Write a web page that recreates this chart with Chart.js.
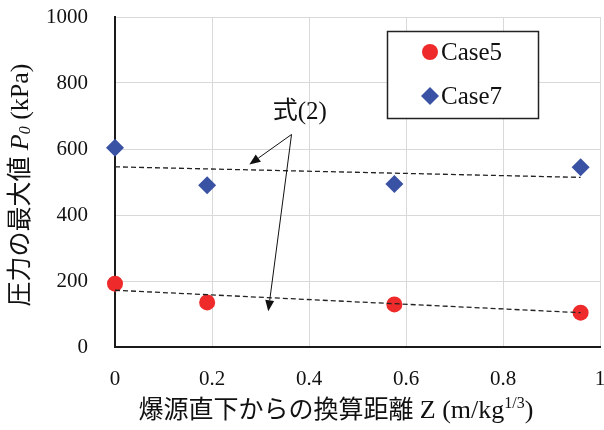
<!DOCTYPE html>
<html>
<head>
<meta charset="utf-8">
<script src="https://cdn.jsdelivr.net/npm/chart.js@4"></script>
<style>
  body { margin: 0; background: #fff; }
  canvas { display: block; }
</style>
</head>
<body>
<canvas id="chart" width="604" height="430"></canvas>
<script>
// Peak pressure vs scaled distance - Case5 / Case7 with eq.(2) trend lines

// measured points
const zCase5 = [0, 0.19, 0.576, 0.96];
const pCase5 = [192, 135, 129, 104];
const zCase7 = [0, 0.19, 0.576, 0.96];
const pCase7 = [604, 490, 494, 545];

// eq.(2) dashed lines (end points)
const zTrend = [0, 0.96];
const pTrend5 = [172, 104];
const pTrend7 = [546, 514];

// annotation "式(2)" with arrows, in data units
const noteText = '式(2)';
const notePos = [0.381, 712];
const noteFrom = [0.364, 644];
const noteTargets = [[0.277, 553], [0.316, 108]];

const seriesNames = ['Case5', 'Case7'];
const xTickValues = [0, 0.2, 0.4, 0.6, 0.8, 1];

const SERIF = '"Liberation Serif", "Times New Roman", "Noto Sans CJK JP", serif';
const RED = '#ee2a2a';
const BLUE = '#3a52a3';

function toPoints(xs, ys) {
    return xs.map((x, i) => ({ x: x, y: ys[i] }));
}

// draws a list of text runs [{t, italic, size, dy}] starting at x
function drawRuns(ctx, runs, x, y) {
    runs.forEach(r => {
        ctx.font = (r.italic ? 'italic ' : '') + r.size + 'px ' + SERIF;
        ctx.fillText(r.t, x, y + (r.dy || 0));
        x += ctx.measureText(r.t).width;
    });
}
function runsWidth(ctx, runs) {
    let w = 0;
    runs.forEach(r => {
        ctx.font = (r.italic ? 'italic ' : '') + r.size + 'px ' + SERIF;
        w += ctx.measureText(r.t).width;
    });
    return w;
}

const axisTitles = {
    id: 'axisTitles',
    afterDraw(chart) {
        const ctx = chart.ctx;
        ctx.save();
        ctx.fillStyle = '#111';
        ctx.textBaseline = 'middle';
        ctx.textAlign = 'left';

        // x title
        const xRuns = [
            { t: '爆源直下からの換算距離 ', size: 25 },
            { t: 'Z (m/kg', size: 26 },
            { t: '1/3', size: 16, dy: -7 },
            { t: ')', size: 26 }
        ];
        const xw = runsWidth(ctx, xRuns);
        drawRuns(ctx, xRuns, 336 - xw / 2, 411);

        // y title (rotated)
        const yRuns = [
            { t: '圧力の最大値 ', size: 25 },
            { t: 'P', size: 26, italic: true },
            { t: '0', size: 16, italic: true, dy: 5 },
            { t: ' (kPa)', size: 26 }
        ];
        const yw = runsWidth(ctx, yRuns);
        ctx.translate(21, 185);
        ctx.rotate(-Math.PI / 2);
        drawRuns(ctx, yRuns, -yw / 2, 0);
        ctx.restore();
    }
};

const noteArrows = {
    id: 'noteArrows',
    afterDatasetsDraw(chart) {
        const ctx = chart.ctx;
        const xs = chart.scales.x, ys = chart.scales.y;
        const px = v => xs.getPixelForValue(v);
        const py = v => ys.getPixelForValue(v);
        ctx.save();
        ctx.fillStyle = '#111';
        ctx.font = '25px ' + SERIF;
        ctx.textAlign = 'center';
        ctx.textBaseline = 'middle';
        ctx.fillText(noteText, px(notePos[0]), py(notePos[1]));

        const x0 = px(noteFrom[0]), y0 = py(noteFrom[1]);
        ctx.strokeStyle = '#111';
        ctx.lineWidth = 1;
        noteTargets.forEach(t => {
            const x1 = px(t[0]), y1 = py(t[1]);
            const a = Math.atan2(y1 - y0, x1 - x0);
            const len = 11, half = 4.5;
            const bx = x1 - Math.cos(a) * len, by = y1 - Math.sin(a) * len;
            ctx.beginPath();
            ctx.moveTo(x0, y0);
            ctx.lineTo(bx, by);
            ctx.stroke();
            ctx.beginPath();
            ctx.moveTo(x1, y1);
            ctx.lineTo(bx + Math.sin(a) * half, by - Math.cos(a) * half);
            ctx.lineTo(bx - Math.sin(a) * half, by + Math.cos(a) * half);
            ctx.closePath();
            ctx.fill();
        });
        ctx.restore();
    }
};

const boxLegend = {
    id: 'boxLegend',
    afterDraw(chart) {
        const ctx = chart.ctx;
        ctx.save();
        ctx.fillStyle = '#fff';
        ctx.fillRect(387, 31, 151, 87);
        ctx.strokeStyle = '#222';
        ctx.lineWidth = 1.5;
        ctx.strokeRect(387.5, 31.5, 151, 87);
        const rows = [52, 96];
        seriesNames.forEach((name, i) => {
            const ds = chart.data.datasets.find(d => d.label === name);
            ctx.fillStyle = ds.backgroundColor;
            Chart.helpers.drawPoint(ctx, {
                pointStyle: ds.pointStyle,
                radius: ds.pointRadius,
                borderWidth: 0
            }, 430, rows[i]);
            ctx.fillStyle = '#111';
            ctx.font = '25px ' + SERIF;
            ctx.textAlign = 'left';
            ctx.textBaseline = 'middle';
            ctx.fillText(name, 441, rows[i] + 1);
        });
        ctx.restore();
    }
};

const trendStyle = {
    type: 'line',
    showLine: true,
    pointRadius: 0,
    borderColor: '#222',
    borderWidth: 1.3,
    borderDash: [5, 3],
    fill: false,
    clip: false
};

new Chart(document.getElementById('chart'), {
    type: 'scatter',
    data: {
        datasets: [
            Object.assign({ label: 'trend5', data: toPoints(zTrend, pTrend5) }, trendStyle),
            Object.assign({ label: 'trend7', data: toPoints(zTrend, pTrend7) }, trendStyle),
            {
                label: seriesNames[0],
                data: toPoints(zCase5, pCase5),
                pointStyle: 'circle',
                pointRadius: 8,
                backgroundColor: RED,
                borderColor: RED,
                borderWidth: 0,
                clip: false
            },
            {
                label: seriesNames[1],
                data: toPoints(zCase7, pCase7),
                pointStyle: 'rectRot',
                pointRadius: 9,
                backgroundColor: BLUE,
                borderColor: BLUE,
                borderWidth: 0,
                clip: false
            }
        ]
    },
    options: {
        responsive: false,
        animation: false,
        // autoPadding off, otherwise it reserves room for point radius on the right
        layout: { autoPadding: false, padding: { top: 17, right: 4, left: 0, bottom: 0 } },
        plugins: {
            legend: { display: false },
            tooltip: { enabled: false }
        },
        scales: {
            x: {
                type: 'linear',
                min: 0,
                max: 1,
                // fixed axis band; drop the label overhang padding
                afterFit: s => { s.height = 83; s.paddingLeft = 0; s.paddingRight = 0; },
                afterBuildTicks: s => { s.ticks = xTickValues.map(v => ({ value: v })); },
                grid: { color: '#d9d9d9', lineWidth: 1, drawTicks: false },
                border: { color: '#1a1a1a', width: 2 },
                ticks: {
                    padding: 20,
                    color: '#111',
                    font: { family: SERIF, size: 21 },
                    callback: v => String(Number(v.toFixed(1)))
                }
            },
            y: {
                min: 0,
                max: 1000,
                afterFit: s => { s.width = 115; s.paddingTop = 0; s.paddingBottom = 0; },
                grid: { color: '#d9d9d9', lineWidth: 1, drawTicks: false },
                border: { color: '#1a1a1a', width: 2 },
                ticks: {
                    stepSize: 200,
                    padding: 27,
                    color: '#111',
                    font: { family: SERIF, size: 21 },
                    callback: v => String(v)
                }
            }
        }
    },
    plugins: [noteArrows, boxLegend, axisTitles]
});
</script>
</body>
</html>
